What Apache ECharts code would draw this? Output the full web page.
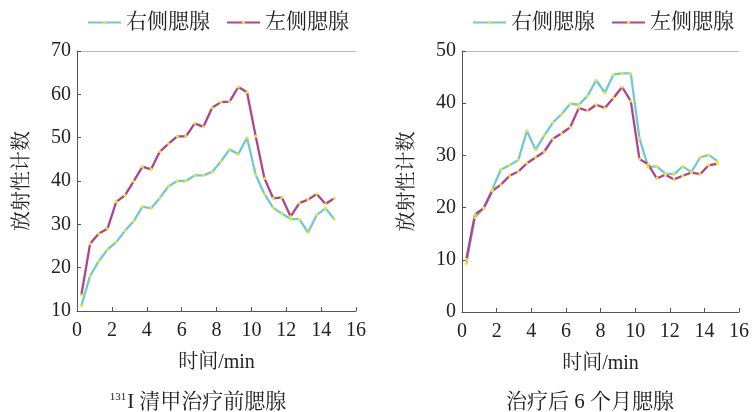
<!DOCTYPE html>
<html>
<head>
<meta charset="utf-8">
<script src="https://cdn.jsdelivr.net/npm/echarts@6/dist/echarts.min.js"></script>
<style>
  html, body { margin: 0; padding: 0; background: #fff; }
  #chart { width: 752px; height: 412px; }
</style>
</head>
<body>
<div id="chart"></div>
<script>
// Sampling times (min)
const times = [0.25, 0.75, 1.25, 1.75, 2.25, 2.75, 3.25, 3.75, 4.25, 4.75,
               5.25, 5.75, 6.25, 6.75, 7.25, 7.75, 8.25, 8.75, 9.25, 9.75,
               10.25, 10.75, 11.25, 11.75, 12.25, 12.75, 13.25, 13.75, 14.25, 14.75];

// Before 131I ablation: counts per gland
const beforeRight = [11.2, 18.1, 21.5, 24.2, 25.9, 28.5, 30.7, 34.1, 33.7, 36.1,
                     38.8, 40.0, 40.0, 41.3, 41.3, 42.1, 44.5, 47.3, 46.2, 50.0,
                     41.4, 37.0, 33.8, 32.5, 31.2, 31.2, 28.1, 32.2, 33.7, 31.2];
const beforeLeft  = [13.7, 25.5, 27.9, 29.0, 35.2, 36.7, 39.9, 43.3, 42.7, 46.8,
                     48.6, 50.3, 50.3, 53.3, 52.5, 56.9, 58.2, 58.3, 61.7, 60.5,
                     50.3, 40.6, 36.0, 36.2, 31.8, 34.9, 35.7, 37.0, 34.7, 36.0];

// Six months after treatment
const afterRight = [9.3, 18.1, 19.9, 23.5, 27.3, 28.1, 29.1, 34.7, 31.1, 33.8,
                    36.3, 37.9, 39.9, 39.7, 41.4, 44.4, 42.0, 45.5, 45.7, 45.7,
                    33.3, 27.8, 27.9, 26.5, 26.4, 27.9, 26.8, 29.6, 30.1, 28.9];
const afterLeft  = [10.1, 18.7, 19.9, 23.2, 24.4, 26.1, 26.9, 28.5, 29.6, 30.7,
                    33.2, 34.2, 35.4, 39.1, 38.5, 39.7, 39.1, 41.0, 43.1, 40.4,
                    29.3, 28.3, 25.6, 26.3, 25.4, 26.1, 26.7, 26.4, 28.1, 28.4];

const seriesNames = ['右侧腮腺', '左侧腮腺'];
const xTicks = { min: 0, max: 16, interval: 2 };
const yLeftTicks = { min: 10, max: 70, interval: 10 };
const yRightTicks = { min: 0, max: 50, interval: 10 };
const xName = '时间/min';
const yName = '放射性计数';
const captions = ['{sup|131}I 清甲治疗前腮腺', '治疗后 6 个月腮腺'];

const FONT = "'Liberation Serif', 'Noto Serif CJK SC', 'Noto Sans CJK SC', serif";
const TEXT = '#222';
const AXIS = '#555';
const CYAN = '#72c9d2';
const MAGENTA = '#b2428f';
const DOT = '#eaea2a';

const pairs = ys => ys.map((y, i) => [times[i], y]);

function xAxisFor(gridIndex) {
  return {
    type: 'value', gridIndex, min: xTicks.min, max: xTicks.max, interval: xTicks.interval,
    name: xName, nameLocation: 'middle', nameGap: 42,
    nameTextStyle: { fontFamily: FONT, fontSize: 20, color: TEXT },
    axisLine: { show: true, lineStyle: { color: AXIS, width: 1 } },
    axisTick: { show: true, inside: true, length: 4, lineStyle: { color: AXIS } },
    axisLabel: { fontFamily: FONT, fontSize: 20, color: TEXT, margin: 10 },
    splitLine: { show: false }
  };
}
function topBorder(gridIndex) {
  return {
    type: 'value', gridIndex, position: 'top', min: xTicks.min, max: xTicks.max,
    axisLine: { show: true, lineStyle: { color: '#bbb', width: 1 } },
    axisTick: { show: false }, axisLabel: { show: false }, splitLine: { show: false }
  };
}
function yAxisFor(gridIndex, t) {
  return {
    type: 'value', gridIndex, min: t.min, max: t.max, interval: t.interval,
    name: yName, nameLocation: 'middle', nameGap: 44, nameRotate: 90,
    nameTextStyle: { fontFamily: FONT, fontSize: 20, color: TEXT },
    axisLine: { show: true, lineStyle: { color: AXIS, width: 1 } },
    axisTick: { show: true, inside: true, length: 4, lineStyle: { color: AXIS } },
    axisLabel: { fontFamily: FONT, fontSize: 20, color: TEXT, margin: 6 },
    splitLine: { show: false }
  };
}
function lineSeries(name, color, data, xIdx, yIdx) {
  return {
    type: 'line', name, xAxisIndex: xIdx, yAxisIndex: yIdx, data: pairs(data),
    symbol: 'circle', symbolSize: 3, showSymbol: true,
    itemStyle: { color: DOT },
    lineStyle: { color, width: 2.3 },
    emphasis: { disabled: true }, animation: false
  };
}
function legendAt(left) {
  return {
    left, top: 12, padding: 0, itemWidth: 33, itemHeight: 4, itemGap: 16,
    data: seriesNames,
    textStyle: { fontFamily: FONT, fontSize: 21, color: TEXT }
  };
}

const chart = echarts.init(document.getElementById('chart'), null, { renderer: 'canvas' });
chart.setOption({
  backgroundColor: '#fff',
  animation: false,
  title: [
    { text: captions[0], left: 193, top: 387, textAlign: 'center',
      textStyle: { fontFamily: FONT, fontSize: 21, fontWeight: 'normal', color: TEXT,
        rich: { sup: { fontFamily: FONT, fontSize: 11, color: TEXT, verticalAlign: 'top', padding: [0, 1, 9, 0] } } } },
    { text: captions[1], left: 585, top: 387, textAlign: 'center',
      textStyle: { fontFamily: FONT, fontSize: 21, fontWeight: 'normal', color: TEXT } }
  ],
  legend: [legendAt(87), legendAt(472)],
  grid: [
    { left: 77, top: 51, width: 279, height: 260 },
    { left: 462, top: 51, width: 279, height: 261 }
  ],
  xAxis: [xAxisFor(0), xAxisFor(1), topBorder(0), topBorder(1)],
  yAxis: [yAxisFor(0, yLeftTicks), yAxisFor(1, yRightTicks)],
  series: [
    lineSeries(seriesNames[0], CYAN, beforeRight, 0, 0),
    lineSeries(seriesNames[1], MAGENTA, beforeLeft, 0, 0),
    lineSeries(seriesNames[0], CYAN, afterRight, 1, 1),
    lineSeries(seriesNames[1], MAGENTA, afterLeft, 1, 1)
  ]
});
</script>
</body>
</html>
